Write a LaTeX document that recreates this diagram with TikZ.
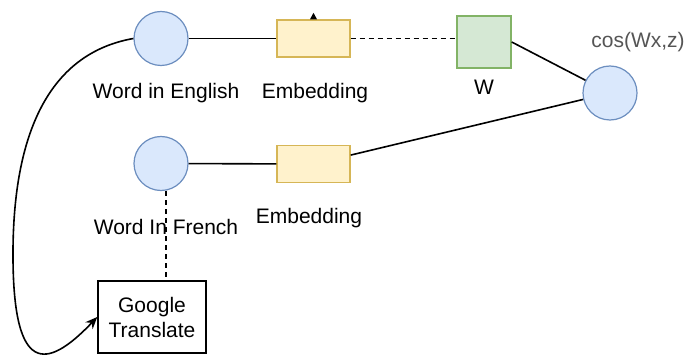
\documentclass[tikz,border=0pt]{standalone}
\usepackage{fontspec}
\setmainfont{Liberation Sans}
\usetikzlibrary{arrows.meta}
\definecolor{bfill}{HTML}{DAE8FC}
\definecolor{bdraw}{HTML}{6C8EBF}
\definecolor{yfill}{HTML}{FFF2CC}
\definecolor{ydraw}{HTML}{D6B656}
\definecolor{gfill}{HTML}{D5E8D4}
\definecolor{gdraw}{HTML}{82B366}
\definecolor{cosgray}{HTML}{555555}
\tikzset{
  bcirc/.style={circle,draw=bdraw,fill=bfill,line width=1.2pt,minimum size=54pt,inner sep=0pt},
  ybox/.style={rectangle,draw=ydraw,fill=yfill,line width=1.4pt,minimum width=73pt,minimum height=37pt,inner sep=0pt},
  gbox/.style={rectangle,draw=gdraw,fill=gfill,line width=1.4pt,minimum width=54pt,minimum height=52pt,inner sep=0pt},
  gtbox/.style={rectangle,draw=black,fill=white,line width=1.5pt,minimum width=108pt,minimum height=72pt,inner sep=0pt,align=center,font=\fontsize{21}{25}\selectfont},
  lbl/.style={font=\fontsize{21}{25}\selectfont,inner sep=0pt},
  conn/.style={draw=black,line width=1.6pt},
  dconn/.style={draw=black,line width=1.6pt,dash pattern=on 5pt off 4pt},
}
\begin{document}
\begin{tikzpicture}[x=1pt,y=-1pt]
\useasboundingbox (0,0) rectangle (690,358);
\node[bcirc] (eng) at (161,38.5) {};
\node[ybox] (emb1) at (313.5,38.5) {};
\node[gbox] (w) at (484,42) {};
\node[bcirc] (cos) at (610,93) {};
\node[bcirc] (fr) at (161,163.5) {};
\node[ybox] (emb2) at (313.5,164) {};
\node[gtbox] (gt) at (152,317) {Google\\Translate};
\node[lbl] (lEng) at (166,93) {Word in English};
\node[lbl] (lEmb1) at (315,93) {Embedding};
\node[lbl] (lW) at (484,87) {W};
\node[lbl,text=cosgray] (lcos) at (638,42) {cos(Wx,z)};
\node[lbl] (lFr) at (166,227) {Word In French};
\node[lbl] (lEmb2) at (309,218) {Embedding};
\coordinate (dtop) at ([xshift=5pt]fr.south);
\draw[conn] (eng) -- (emb1);
\draw[dconn] (emb1.east) -- (emb1.east -| w.west);
\draw[conn] (w.east) -- (cos);
\draw[conn] (fr) -- (emb2);
\draw[conn] (emb2) -- (cos);
\draw[dconn] (dtop) -- (dtop |- gt.north);
\draw[conn,-{Stealth[length=12pt,width=10pt]}] (eng.west) .. controls (40,55) and (12,150) .. (13,260) .. controls (14,372) and (45,372) .. (gt.west);
\fill[black] ([xshift=-3.5pt]emb1.north) -- ([xshift=3.5pt]emb1.north) -- ([yshift=6.5pt]emb1.north) -- cycle;
\end{tikzpicture}
\end{document}
